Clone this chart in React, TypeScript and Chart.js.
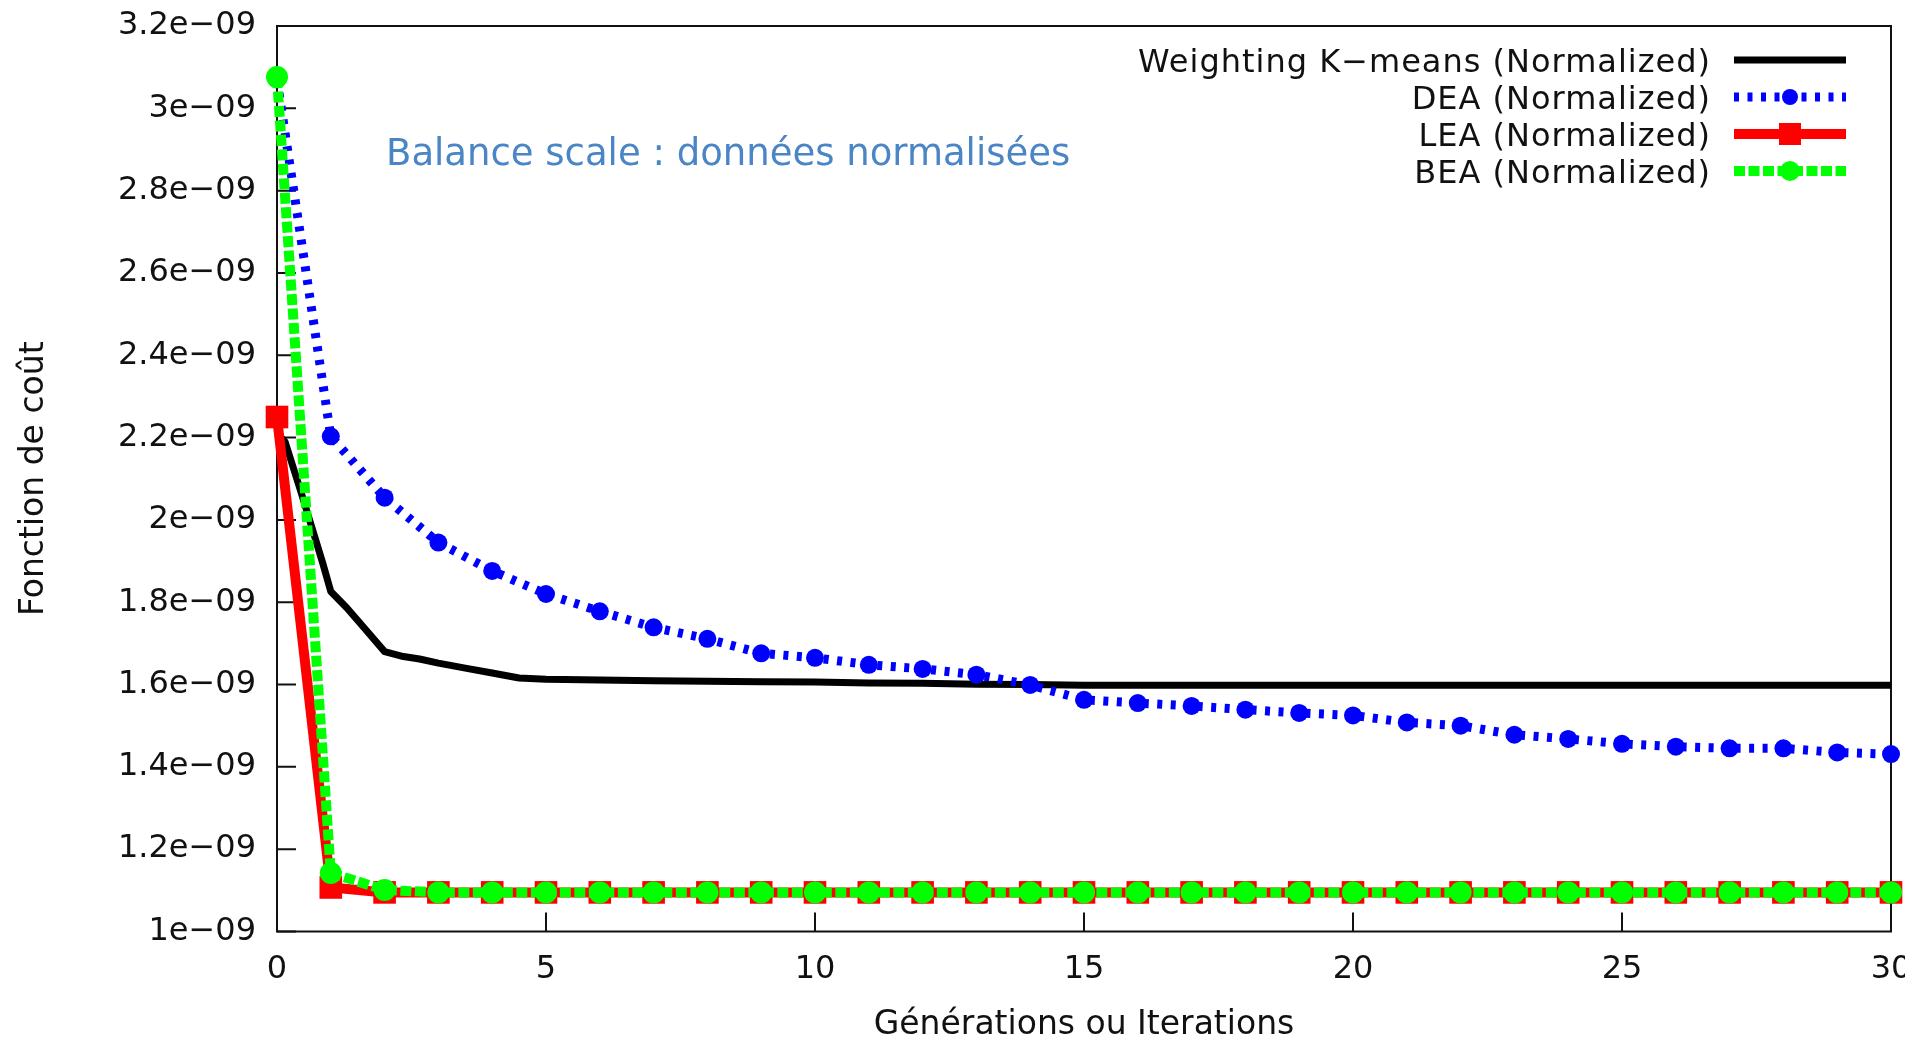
import { useEffect, useRef } from 'react';
import { Chart, registerables } from 'chart.js';

Chart.register(...registerables);

// Generation index shared by the three evolutionary algorithms
const iterations = [
  0, 1, 2, 3, 4, 5, 6, 7, 8, 9, 10, 11, 12, 13, 14, 15,
  16, 17, 18, 19, 20, 21, 22, 23, 24, 25, 26, 27, 28, 29, 30,
];

// Cost function per generation
const deaCost = [
  3.07e-9, 2.203e-9, 2.054e-9, 1.945e-9, 1.876e-9, 1.82e-9, 1.778e-9, 1.739e-9,
  1.711e-9, 1.676e-9, 1.665e-9, 1.648e-9, 1.638e-9, 1.624e-9, 1.599e-9, 1.563e-9,
  1.555e-9, 1.548e-9, 1.539e-9, 1.531e-9, 1.525e-9, 1.508e-9, 1.5e-9, 1.478e-9,
  1.468e-9, 1.456e-9, 1.449e-9, 1.445e-9, 1.445e-9, 1.435e-9, 1.431e-9,
];
const leaCost = [
  2.25e-9, 1.107e-9, 1.095e-9, 1.095e-9, 1.095e-9, 1.095e-9, 1.095e-9, 1.095e-9,
  1.095e-9, 1.095e-9, 1.095e-9, 1.095e-9, 1.095e-9, 1.095e-9, 1.095e-9, 1.095e-9,
  1.095e-9, 1.095e-9, 1.095e-9, 1.095e-9, 1.095e-9, 1.095e-9, 1.095e-9, 1.095e-9,
  1.095e-9, 1.095e-9, 1.095e-9, 1.095e-9, 1.095e-9, 1.095e-9, 1.095e-9,
];
const beaCost = [
  3.076e-9, 1.142e-9, 1.101e-9, 1.095e-9, 1.095e-9, 1.095e-9, 1.095e-9, 1.095e-9,
  1.095e-9, 1.095e-9, 1.095e-9, 1.095e-9, 1.095e-9, 1.095e-9, 1.095e-9, 1.095e-9,
  1.095e-9, 1.095e-9, 1.095e-9, 1.095e-9, 1.095e-9, 1.095e-9, 1.095e-9, 1.095e-9,
  1.095e-9, 1.095e-9, 1.095e-9, 1.095e-9, 1.095e-9, 1.095e-9, 1.095e-9,
];

// Weighting K-means is sampled more finely (iterations)
const kmeansIter = [
  0, 0.15, 0.45, 0.65, 0.85, 1, 1.3, 1.65, 2, 2.35, 2.65, 3, 3.5, 4, 4.5, 5,
  6, 7, 8, 9, 10, 11, 12, 13, 14, 15, 20, 25, 30,
];
const kmeansCost = [
  2.21e-9, 2.19e-9, 2.066e-9, 1.981e-9, 1.895e-9, 1.826e-9, 1.786e-9, 1.733e-9,
  1.68e-9, 1.668e-9, 1.662e-9, 1.652e-9, 1.64e-9, 1.628e-9, 1.616e-9, 1.613e-9,
  1.611e-9, 1.609e-9, 1.608e-9, 1.607e-9, 1.606e-9, 1.604e-9, 1.603e-9, 1.601e-9,
  1.6e-9, 1.598e-9, 1.598e-9, 1.598e-9, 1.598e-9,
];

const xTickValues = [0, 5, 10, 15, 20, 25, 30];
const yTickValues = [
  1e-9, 1.2e-9, 1.4e-9, 1.6e-9, 1.8e-9, 2e-9, 2.2e-9, 2.4e-9, 2.6e-9, 2.8e-9, 3e-9, 3.2e-9,
];
const yTickLabels = [
  '1e−09', '1.2e−09', '1.4e−09', '1.6e−09', '1.8e−09', '2e−09',
  '2.2e−09', '2.4e−09', '2.6e−09', '2.8e−09', '3e−09', '3.2e−09',
];

const seriesLabels = [
  'Weighting K−means (Normalized)',
  'DEA (Normalized)',
  'LEA (Normalized)',
  'BEA (Normalized)',
];
const plotTitle = 'Balance scale : données normalisées';
const xAxisTitle = 'Générations ou Iterations';
const yAxisTitle = 'Fonction de coût';

const FONT = '"DejaVu Sans", sans-serif';

const toPoints = (xs: number[], ys: number[]) => xs.map((x, i) => ({ x, y: ys[i] }));

// Invisible outward tick space keeps the labels off the frame
const hiddenGrid = (tickLength: number) => ({
  display: true,
  drawOnChartArea: false,
  drawTicks: true,
  tickLength,
  color: 'rgba(0,0,0,0)',
});

// Box frame, inward tick marks, in-plot caption and the key
const framePlugin = {
  id: 'frame',
  beforeDatasetsDraw(chart: any) {
    const { ctx, chartArea: a, scales } = chart;
    ctx.save();
    ctx.strokeStyle = '#111';
    ctx.lineWidth = 2;
    ctx.strokeRect(a.left, a.top, a.right - a.left, a.bottom - a.top);
    ctx.beginPath();
    scales.x.ticks.forEach((t: any) => {
      const px = scales.x.getPixelForValue(t.value);
      ctx.moveTo(px, a.bottom);
      ctx.lineTo(px, a.bottom - 19);
    });
    scales.y.ticks.forEach((t: any) => {
      const py = scales.y.getPixelForValue(t.value);
      ctx.moveTo(a.left, py);
      ctx.lineTo(a.left + 19, py);
    });
    ctx.stroke();
    ctx.restore();
  },
  afterDatasetsDraw(chart: any) {
    const { ctx, chartArea: a } = chart;
    ctx.save();
    ctx.fillStyle = '#4a85c6';
    ctx.font = `37px ${FONT}`;
    ctx.textAlign = 'left';
    ctx.textBaseline = 'alphabetic';
    ctx.fillText(plotTitle, a.left + 109, a.top + 139);

    chart.data.datasets.forEach((ds: any, i: number) => {
      const y = a.top + 34 + 37 * i;
      ctx.fillStyle = '#111';
      ctx.font = `32px ${FONT}`;
      (ctx as any).letterSpacing = '1px';
      ctx.textAlign = 'right';
      ctx.fillText(ds.label, a.right - 180, y + 12);
      (ctx as any).letterSpacing = '0px';

      ctx.strokeStyle = ds.borderColor;
      ctx.lineWidth = ds.borderWidth;
      ctx.lineCap = 'butt';
      ctx.setLineDash(ds.borderDash || []);
      ctx.beginPath();
      ctx.moveTo(a.right - 157, y);
      ctx.lineTo(a.right - 45, y);
      ctx.stroke();
      ctx.setLineDash([]);

      const mx = a.right - 101;
      if (ds.pointRadius > 0) {
        ctx.fillStyle = ds.pointBackgroundColor;
        if (ds.pointStyle === 'rect') {
          ctx.fillRect(mx - 11, y - 11, 22, 22);
        } else {
          ctx.beginPath();
          ctx.arc(mx, y, ds.pointRadius - 1, 0, Math.PI * 2);
          ctx.fill();
        }
      }
    });
    ctx.restore();
  },
};

export default function App() {
  const canvasRef = useRef<HTMLCanvasElement | null>(null);

  useEffect(() => {
    const canvas = canvasRef.current;
    if (!canvas) return;

    const chart = new Chart(canvas, {
      type: 'line',
      data: {
        datasets: [
          {
            label: seriesLabels[0],
            data: toPoints(kmeansIter, kmeansCost),
            borderColor: '#000000',
            backgroundColor: '#000000',
            borderWidth: 7,
            borderJoinStyle: 'round',
            pointRadius: 0,
            order: 4,
            clip: false,
          },
          {
            label: seriesLabels[1],
            data: toPoints(iterations, deaCost),
            borderColor: '#0000ff',
            backgroundColor: '#0000ff',
            borderWidth: 9,
            borderDash: [5, 8.5],
            borderCapStyle: 'butt',
            pointStyle: 'circle',
            pointRadius: 9,
            pointBackgroundColor: '#0000ff',
            pointBorderWidth: 0,
            order: 3,
            clip: false,
          },
          {
            label: seriesLabels[2],
            data: toPoints(iterations, leaCost),
            borderColor: '#ff0000',
            backgroundColor: '#ff0000',
            borderWidth: 10,
            pointStyle: 'rect',
            pointRadius: 16,
            pointBackgroundColor: '#ff0000',
            pointBorderWidth: 0,
            order: 2,
            clip: false,
          },
          {
            label: seriesLabels[3],
            data: toPoints(iterations, beaCost),
            borderColor: '#00ff00',
            backgroundColor: '#00ff00',
            borderWidth: 10,
            borderDash: [11, 3.5],
            borderCapStyle: 'butt',
            pointStyle: 'circle',
            pointRadius: 11,
            pointBackgroundColor: '#00ff00',
            pointBorderWidth: 0,
            order: 1,
            clip: false,
          },
        ] as any,
      },
      options: {
        responsive: false,
        devicePixelRatio: 1,
        animation: false,
        events: [],
        layout: { padding: { top: 26, right: 36, bottom: 0, left: 0 } },
        plugins: {
          legend: { display: false },
          tooltip: { enabled: false },
        },
        scales: {
          x: {
            type: 'linear',
            min: 0,
            max: 30,
            afterBuildTicks: (axis: any) => {
              axis.ticks = xTickValues.map((value) => ({ value }));
            },
            afterFit: (axis: any) => {
              axis.height = 108.5;
            },
            grid: hiddenGrid(22),
            border: { display: false },
            ticks: {
              autoSkip: false,
              maxRotation: 0,
              padding: 0,
              color: '#111',
              font: { family: FONT, size: 32, lineHeight: 1 },
              callback: (value: any) => String(value),
            },
            title: {
              display: true,
              text: xAxisTitle,
              color: '#111',
              font: { family: FONT, size: 33, lineHeight: 1 },
              padding: { top: 0, bottom: -2 },
            },
          },
          y: {
            type: 'linear',
            min: 1e-9,
            max: 3.2e-9,
            afterBuildTicks: (axis: any) => {
              axis.ticks = yTickValues.map((value) => ({ value }));
            },
            afterFit: (axis: any) => {
              axis.width = 277;
            },
            grid: hiddenGrid(21),
            border: { display: false },
            ticks: {
              autoSkip: false,
              padding: 0,
              color: '#111',
              font: { family: FONT, size: 32, lineHeight: 1 },
              callback: (_value: any, index: number) => yTickLabels[index],
            },
            title: {
              display: true,
              text: yAxisTitle,
              color: '#111',
              font: { family: FONT, size: 33, lineHeight: 1 },
              padding: { top: 17.5, bottom: 0 },
            },
          },
        },
      } as any,
      plugins: [framePlugin],
    });

    return () => chart.destroy();
  }, []);

  return (
    <div
      style={{
        position: 'fixed',
        left: 0,
        top: 0,
        width: 1905,
        height: 1040,
        overflow: 'hidden',
        background: '#ffffff',
      }}
    >
      <canvas
        ref={canvasRef}
        width={1927}
        height={1040}
        style={{ display: 'block', width: 1927, height: 1040 }}
      />
    </div>
  );
}
